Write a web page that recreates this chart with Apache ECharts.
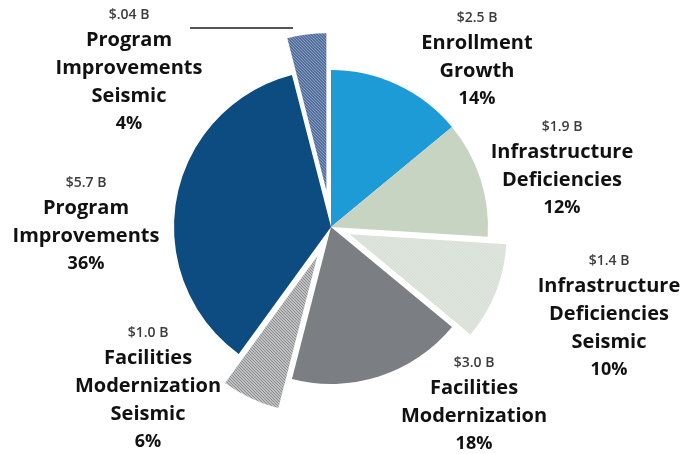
<!DOCTYPE html>
<html>
<head>
<meta charset="utf-8">
<script src="https://cdn.jsdelivr.net/npm/echarts@6/dist/echarts.min.js"></script>
<style>
  html, body { margin: 0; padding: 0; background: #fff; }
  #chart { width: 697px; height: 454px; }
</style>
</head>
<body>
<div id="chart"></div>
<script>
// Bond program allocation, clockwise from 12 o'clock
const categories = [
  'Enrollment\nGrowth',
  'Infrastructure\nDeficiencies',
  'Infrastructure\nDeficiencies\nSeismic',
  'Facilities\nModernization',
  'Facilities\nModernization\nSeismic',
  'Program\nImprovements',
  'Program\nImprovements\nSeismic'
];
const percents = [14, 12, 10, 18, 6, 36, 4];
const amounts = ['$2.5 B', '$1.9 B', '$1.4 B', '$3.0 B', '$1.0 B', '$5.7 B', '$.04 B'];
// pulled-out wedges (index -> offset in px); 0 means the wedge sits in the pie
const explode = [0, 0, 20, 0, 32, 0, 37];

// hatch tiles for the seismic wedges
function hatch(line, fill) {
  const c = document.createElement('canvas');
  c.width = 3; c.height = 3;
  const g = c.getContext('2d');
  g.fillStyle = fill; g.fillRect(0, 0, 3, 3);
  g.fillStyle = line;
  for (let i = 0; i < 3; i++) g.fillRect(i, i, 1, 1);
  return { image: c, repeat: 'repeat' };
}

const fills = [
  '#1d9bd7',
  '#c8d4c2',
  hatch('#f0f3ee', '#d2dccf'),
  '#7b7e82',
  hatch('#ececec', '#8e9092'),
  '#0c4c80',
  hatch('#c9d2e2', '#35558c')
];

// label block anchors: [centre x, top y]
const labelPos = [
  [477, 7], [562, 116], [609, 250], [474, 352], [148, 322], [86, 172], [129, 4]
];

const CX = 331, CY = 227, R = 157;
const hidden = 'rgba(0,0,0,0)';

function labelText(i) {
  const lines = categories[i].split('\n').map(s => '{n|' + s + '}');
  return ['{d|' + amounts[i] + '}'].concat(lines, ['{p|' + percents[i] + '%}']).join('\n');
}

const baseSeries = {
  type: 'pie',
  center: [CX, CY],
  radius: R,
  startAngle: 90,
  clockwise: true,
  avoidLabelOverlap: false,
  silent: true,
  animation: false,
  labelLine: { show: false },
  emphasis: { disabled: true }
};

const series = [];

// solid wedges plus all labels
series.push(Object.assign({}, baseSeries, {
  data: percents.map((v, i) => ({
    value: v,
    name: categories[i],
    itemStyle: { color: explode[i] ? hidden : fills[i] }
  })),
  label: {
    show: true,
    formatter: p => labelText(p.dataIndex),
    align: 'center',
    fontFamily: '"Open Sans", sans-serif',
    rich: {
      d: { fontSize: 14, fontWeight: 600, color: '#3c3c3c', lineHeight: 22, fontFamily: '"Open Sans", sans-serif', align: 'center' },
      n: { fontSize: 20, fontWeight: 'bold', color: '#111', lineHeight: 28, fontFamily: '"Open Sans", sans-serif', align: 'center' },
      p: { fontSize: 18, fontWeight: 'bold', color: '#111', lineHeight: 28, fontFamily: '"Open Sans", sans-serif', align: 'center' }
    }
  },
  labelLayout: p => ({
    x: labelPos[p.dataIndex][0],
    y: labelPos[p.dataIndex][1],
    align: 'center',
    verticalAlign: 'top'
  })
}));

// one overlay per pulled-out wedge
explode.forEach((off, k) => {
  if (!off) return;
  series.push(Object.assign({}, baseSeries, {
    selectedMode: 'single',
    selectedOffset: off,
    label: { show: false },
    data: percents.map((v, i) => ({
      value: v,
      name: categories[i],
      selected: i === k,
      itemStyle: { color: i === k ? fills[i] : hidden }
    }))
  }));
});

const chart = echarts.init(document.getElementById('chart'), null, { renderer: 'canvas' });
chart.setOption({
  backgroundColor: '#fff',
  animation: false,
  series: series,
  graphic: [{
    type: 'line',
    shape: { x1: 190, y1: 28, x2: 293, y2: 28 },
    style: { stroke: '#555', lineWidth: 2 },
    silent: true
  }]
});
</script>
</body>
</html>
